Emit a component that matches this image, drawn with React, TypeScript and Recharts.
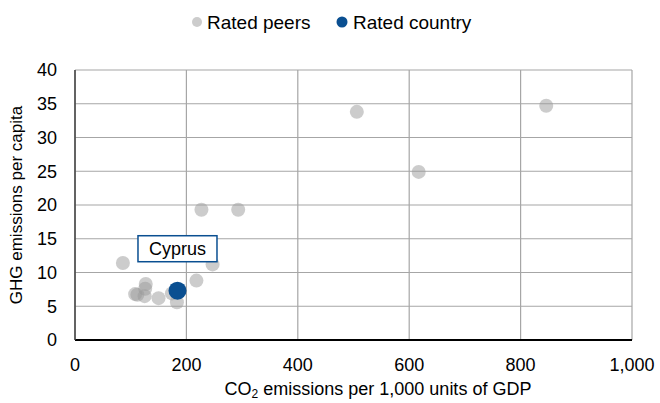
import React from 'react';
import {
  ScatterChart,
  Scatter,
  XAxis,
  YAxis,
  CartesianGrid,
  LabelList
} from 'recharts';

const peerX = [86, 127, 126, 112, 125, 108, 150, 174, 183, 218, 247, 227, 293, 506, 617, 846];
const peerY = [11.4, 8.3, 7.6, 6.7, 6.5, 6.8, 6.2, 6.9, 5.6, 8.8, 11.2, 19.3, 19.3, 33.8, 24.9, 34.7];

const countryName = 'Cyprus';
const countryX = [184];
const countryY = [7.3];

const xTicks = [0, 200, 400, 600, 800, 1000];
const yTicks = [0, 5, 10, 15, 20, 25, 30, 35, 40];

const peers = peerX.map((x, i) => ({ x, y: peerY[i] }));
const country = countryX.map((x, i) => ({ x, y: countryY[i], name: countryName }));

const FONT = 'Arial, "Liberation Sans", sans-serif';
const BLUE = '#0a4f91';
const FS = 18;

const fmt = (v: number) => v.toLocaleString('en-US');

function CountryLabel(props: any) {
  const { x, y, width, value } = props;
  const cx = x + width / 2;
  const cy = y + width / 2;
  const w = 79;
  const h = 26;
  return (
    <g>
      <rect x={cx - w / 2} y={cy - 29 - h} width={w} height={h} fill="#fff" stroke={BLUE} strokeWidth={1.5} />
      <text x={cx} y={cy - 29 - h / 2 + 6} textAnchor="middle" fontSize={FS} fontFamily={FONT} fill="#000">
        {value}
      </text>
    </g>
  );
}

export default function App() {
  return (
    <div style={{ position: 'absolute', left: 0, top: 0, width: 660, height: 403, background: '#fff' }}>
      <ScatterChart width={660} height={403} margin={{ top: 70, right: 28, left: 0, bottom: 0 }}>
        <CartesianGrid stroke="#a6a6a6" strokeWidth={1.2} />
        <XAxis
          type="number"
          dataKey="x"
          domain={[0, 1000]}
          ticks={xTicks}
          tickFormatter={fmt}
          height={63}
          tickLine={false}
          axisLine={{ stroke: '#000', strokeWidth: 1.8 }}
          tick={{ fontSize: FS, fontFamily: FONT, fill: '#000' }}
          tickMargin={12}
        />
        <YAxis
          type="number"
          dataKey="y"
          domain={[0, 40]}
          ticks={yTicks}
          width={75}
          tickLine={false}
          axisLine={{ stroke: '#404040', strokeWidth: 1.5 }}
          tick={{ fontSize: FS, fontFamily: FONT, fill: '#000' }}
          tickMargin={12}
        />
        <Scatter
          name="Rated peers"
          data={peers}
          fill="#999999"
          fillOpacity={0.5}
          isAnimationActive={false}
          shape={(p: any) => <circle cx={p.cx} cy={p.cy} r={7} fill="#999999" fillOpacity={0.5} />}
        />
        <Scatter
          name="Rated country"
          data={country}
          fill={BLUE}
          isAnimationActive={false}
          shape={(p: any) => <circle cx={p.cx} cy={p.cy} r={9} fill={BLUE} />}
        >
          <LabelList dataKey="name" content={<CountryLabel />} />
        </Scatter>
        <g fontFamily={FONT} fontSize={FS + 1} fill="#000">
          <circle cx={197} cy={22} r={5} fill="#cccccc" />
          <text x={207} y={29}>Rated peers</text>
          <circle cx={342} cy={22} r={5.5} fill={BLUE} />
          <text x={353} y={29}>Rated country</text>
        </g>
        <text x={18} y={205} transform="rotate(-90 18 205)" textAnchor="middle" dominantBaseline="middle" fontSize={17} fontFamily={FONT} fill="#000">
          GHG emissions per capita
        </text>
        <text x={378} y={395} textAnchor="middle" fontSize={FS} fontFamily={FONT} fill="#000">
          CO<tspan fontSize={12} dy={3}>2</tspan><tspan dy={-3}> emissions per 1,000 units of GDP</tspan>
        </text>
      </ScatterChart>
    </div>
  );
}
